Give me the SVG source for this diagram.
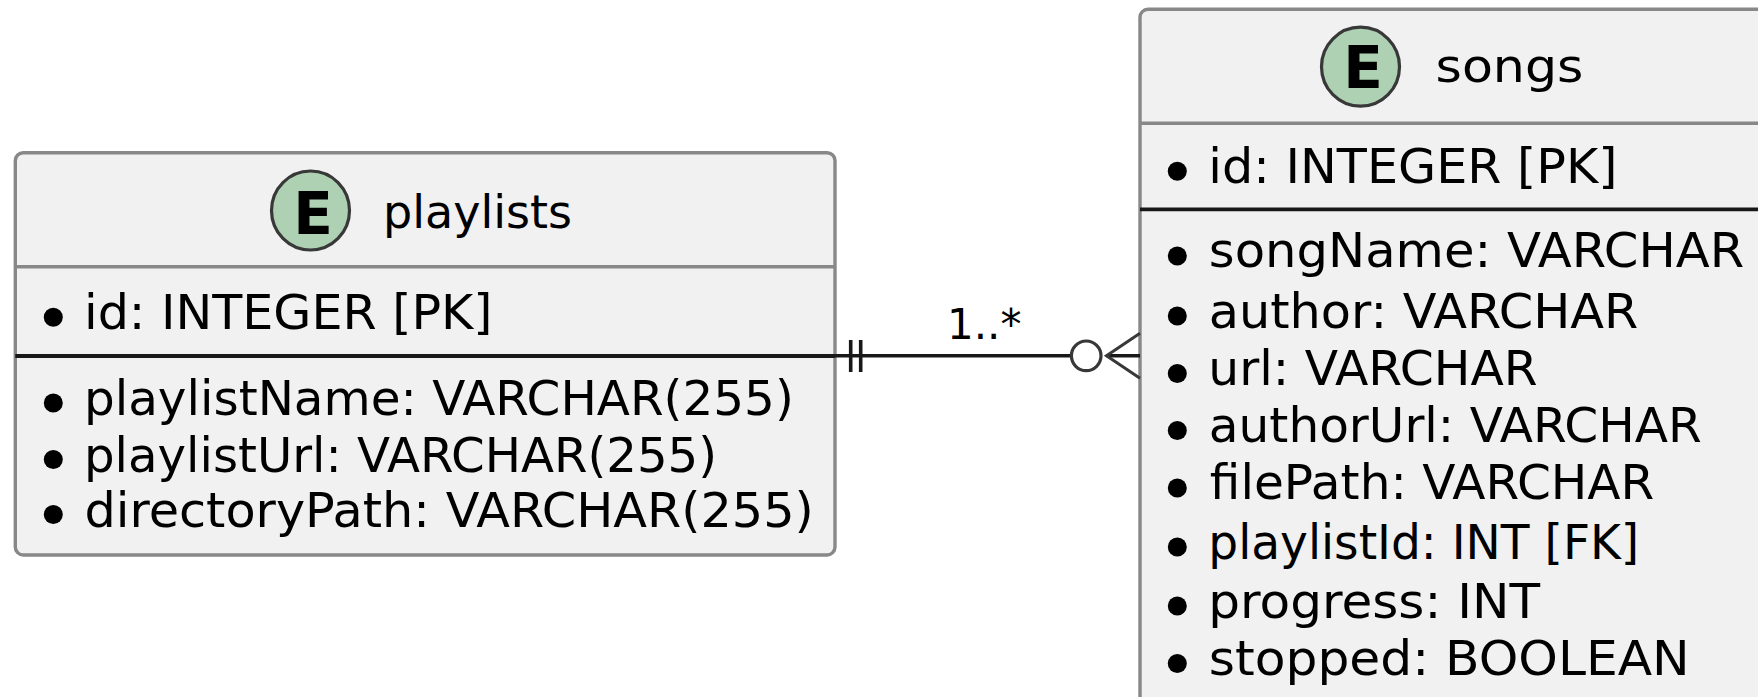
<svg xmlns="http://www.w3.org/2000/svg" width="1758" height="697" viewBox="0 0 1758 697">
<style>
.box{fill:#F1F1F1;stroke:#888888;stroke-width:3.4}
.hsep{stroke:#888888;stroke-width:3.4}
.sep{stroke:#181818;stroke-width:3.8}
.spot{fill:#ADD1B2;stroke:#383838;stroke-width:3.2}
.spotE{font-family:"DejaVu Sans",sans-serif;font-weight:bold;font-size:58px;fill:#000;text-anchor:middle}
.title{font-family:"DejaVu Sans",sans-serif;font-size:47px;fill:#000}
.attr{font-family:"DejaVu Sans",sans-serif;font-size:48px;fill:#000}
.bul{fill:#000}
.link{stroke:#181818;stroke-width:3.6;fill:none}
.lbl{font-family:"DejaVu Sans",sans-serif;font-size:42px;fill:#000}
</style>
<rect width="1758" height="697" fill="#FFFFFF"/>
<g id="playlists">
<rect class="box" x="15.3" y="152.7" width="819.7" height="402.3" rx="8"/>
<line class="hsep" x1="15.3" y1="266.7" x2="835" y2="266.7"/>
<line class="sep" x1="15.3" y1="356" x2="835" y2="356"/>
<ellipse class="spot" cx="310.5" cy="210.5" rx="39" ry="39.5"/>
<text class="spotE" x="313" y="233.5">E</text>
<text class="title" x="383" y="228" textLength="189" lengthAdjust="spacingAndGlyphs">playlists</text>
<circle class="bul" cx="53.3" cy="317.3" r="9.5"/>
<text class="attr" x="84" y="329.3" textLength="408.5" lengthAdjust="spacingAndGlyphs">id: INTEGER [PK]</text>
<circle class="bul" cx="53.3" cy="403" r="9.5"/>
<text class="attr" x="84" y="415" textLength="709.8" lengthAdjust="spacingAndGlyphs">playlistName: VARCHAR(255)</text>
<circle class="bul" cx="53.3" cy="459.5" r="9.5"/>
<text class="attr" x="84" y="471.5" textLength="633.1" lengthAdjust="spacingAndGlyphs">playlistUrl: VARCHAR(255)</text>
<circle class="bul" cx="53.3" cy="514.5" r="9.5"/>
<text class="attr" x="84.5" y="526.7" textLength="729.3" lengthAdjust="spacingAndGlyphs">directoryPath: VARCHAR(255)</text>
</g>
<g id="songs">
<rect class="box" x="1140" y="9.3" width="700" height="720" rx="8"/>
<line class="hsep" x1="1140" y1="123.3" x2="1758" y2="123.3"/>
<line class="sep" x1="1140" y1="209.3" x2="1758" y2="209.3"/>
<ellipse class="spot" cx="1360.5" cy="66.7" rx="39" ry="39.5"/>
<text class="spotE" x="1363" y="87.5">E</text>
<text class="title" x="1435.5" y="81.5" textLength="148" lengthAdjust="spacingAndGlyphs">songs</text>
<circle class="bul" cx="1177.3" cy="171.2" r="9.5"/>
<text class="attr" x="1208.3" y="182.7" textLength="409.2" lengthAdjust="spacingAndGlyphs">id: INTEGER [PK]</text>
<circle class="bul" cx="1177.3" cy="256" r="9.5"/>
<text class="attr" x="1208.8" y="267" textLength="535.5" lengthAdjust="spacingAndGlyphs">songName: VARCHAR</text>
<circle class="bul" cx="1177.3" cy="316" r="9.5"/>
<text class="attr" x="1208.8" y="327.8" textLength="429.5" lengthAdjust="spacingAndGlyphs">author: VARCHAR</text>
<circle class="bul" cx="1177.3" cy="373.5" r="9.5"/>
<text class="attr" x="1208.3" y="385" textLength="329.4" lengthAdjust="spacingAndGlyphs">url: VARCHAR</text>
<circle class="bul" cx="1177.3" cy="430.5" r="9.5"/>
<text class="attr" x="1208.8" y="441.7" textLength="492.9" lengthAdjust="spacingAndGlyphs">authorUrl: VARCHAR</text>
<circle class="bul" cx="1177.3" cy="488" r="9.5"/>
<text class="attr" x="1209.8" y="499.3" textLength="444.5" lengthAdjust="spacingAndGlyphs">filePath: VARCHAR</text>
<circle class="bul" cx="1177.3" cy="547" r="9.5"/>
<text class="attr" x="1208.3" y="559" textLength="430.9" lengthAdjust="spacingAndGlyphs">playlistId: INT [FK]</text>
<circle class="bul" cx="1177.3" cy="606" r="9.5"/>
<text class="attr" x="1208.3" y="618" textLength="331.7" lengthAdjust="spacingAndGlyphs">progress: INT</text>
<circle class="bul" cx="1177.3" cy="663.5" r="9.5"/>
<text class="attr" x="1208.8" y="675" textLength="480.9" lengthAdjust="spacingAndGlyphs">stopped: BOOLEAN</text>
</g>
<g id="connectors">
<line class="link" x1="835" y1="355.8" x2="1071" y2="355.8"/>
<line class="link" x1="850.7" y1="340" x2="850.7" y2="372"/>
<line class="link" x1="860.7" y1="340" x2="860.7" y2="372"/>
<circle cx="1086.2" cy="355.8" r="14.8" fill="none" stroke="#383838" stroke-width="3.2"/>
<line class="link" x1="1106.5" y1="355.8" x2="1140" y2="355.8"/>
<path d="M1140,333.3 L1106.5,355.8 L1140,378.3" fill="none" stroke="#383838" stroke-width="3"/>
<text class="lbl" x="947" y="339.3">1..*</text>
</g>
</svg>
